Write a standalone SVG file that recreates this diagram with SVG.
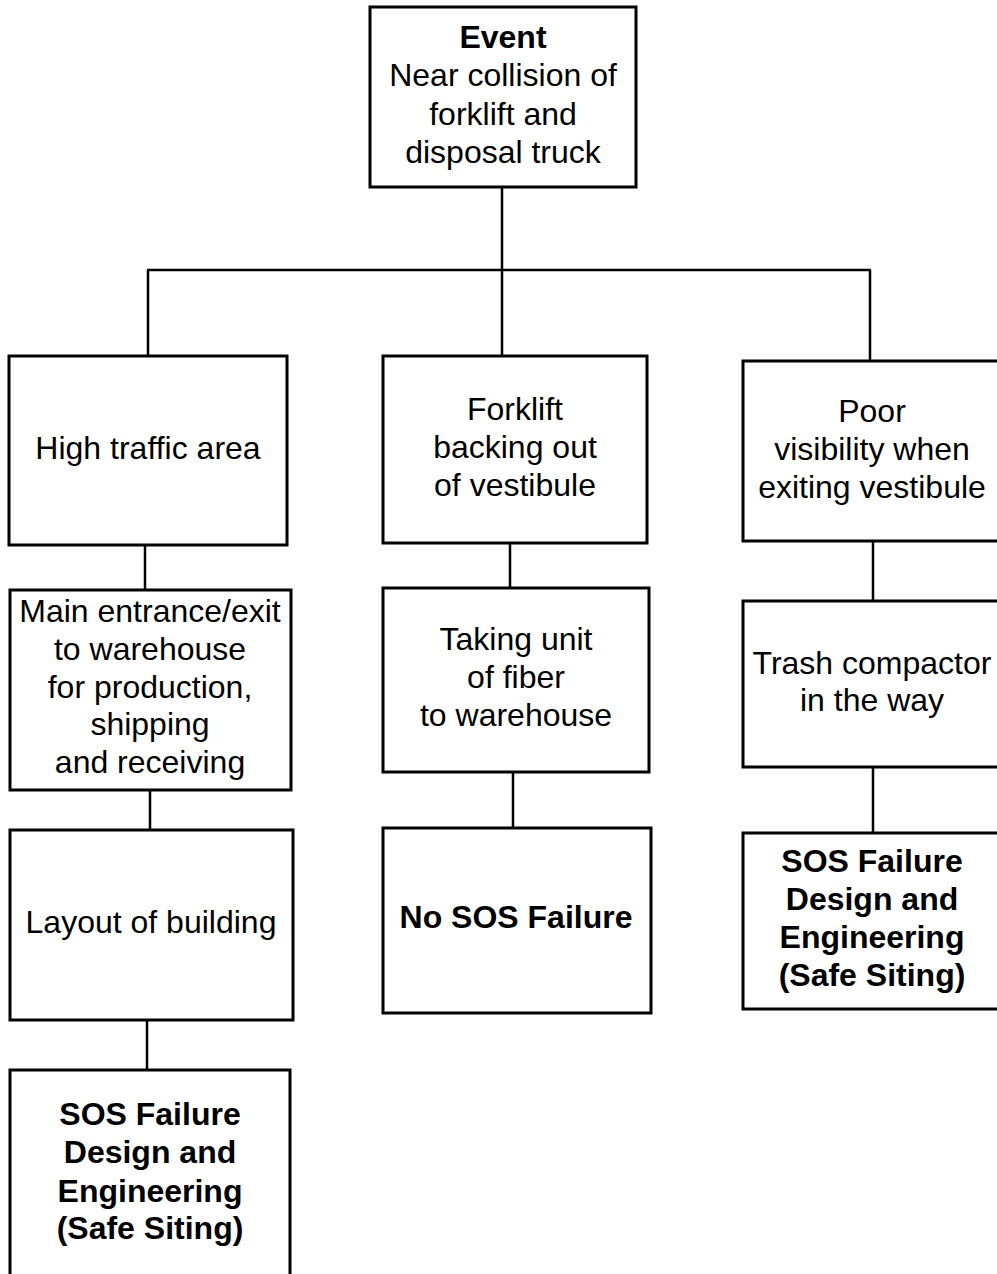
<svg xmlns="http://www.w3.org/2000/svg" width="997" height="1274" viewBox="0 0 997 1274">
<style>
.box{fill:#fff;stroke:#000;stroke-width:3}
.ln{stroke:#000;stroke-width:2.5;fill:none}
.t{font-family:"Liberation Sans",Arial,sans-serif;font-size:32px;fill:#000;text-anchor:middle}
.b{font-weight:bold}
</style>
<rect width="997" height="1274" fill="#fff"/>
<g id="connectors">
<line class="ln" x1="502" y1="187" x2="502" y2="270"/>
<line class="ln" x1="147" y1="270" x2="871" y2="270"/>
<line class="ln" x1="148" y1="270" x2="148" y2="356"/>
<line class="ln" x1="502" y1="270" x2="502" y2="356"/>
<line class="ln" x1="870" y1="270" x2="870" y2="361"/>
<line class="ln" x1="145" y1="545" x2="145" y2="590"/>
<line class="ln" x1="150" y1="790" x2="150" y2="830"/>
<line class="ln" x1="147" y1="1020" x2="147" y2="1070"/>
<line class="ln" x1="510" y1="543" x2="510" y2="588"/>
<line class="ln" x1="513" y1="772" x2="513" y2="828"/>
<line class="ln" x1="873" y1="541" x2="873" y2="601"/>
<line class="ln" x1="873" y1="767" x2="873" y2="833"/>
</g>
<g id="event">
<rect class="box" x="370" y="7" width="266" height="180"/>
<text class="t"><tspan class="b" x="503" y="48">Event</tspan><tspan x="503" y="86">Near collision of</tspan><tspan x="503" y="124.5">forklift and</tspan><tspan x="503" y="163">disposal truck</tspan></text>
</g>
<g id="high-traffic">
<rect class="box" x="9" y="356" width="278" height="189"/>
<text class="t"><tspan x="148" y="459">High traffic area</tspan></text>
</g>
<g id="forklift-backing">
<rect class="box" x="383" y="356" width="264" height="187"/>
<text class="t"><tspan x="515" y="420">Forklift</tspan><tspan x="515" y="458">backing out</tspan><tspan x="515" y="496">of vestibule</tspan></text>
</g>
<g id="poor-visibility">
<rect class="box" x="743" y="361" width="258" height="180"/>
<text class="t"><tspan x="872" y="422">Poor</tspan><tspan x="872" y="460">visibility when</tspan><tspan x="872" y="498">exiting vestibule</tspan></text>
</g>
<g id="main-entrance">
<rect class="box" x="10" y="590" width="281" height="200"/>
<text class="t"><tspan x="150" y="622">Main entrance/exit</tspan><tspan x="150" y="660">to warehouse</tspan><tspan x="150" y="698">for production,</tspan><tspan x="150" y="735">shipping</tspan><tspan x="150" y="773">and receiving</tspan></text>
</g>
<g id="taking-unit">
<rect class="box" x="383" y="588" width="266" height="184"/>
<text class="t"><tspan x="516" y="650">Taking unit</tspan><tspan x="516" y="688">of fiber</tspan><tspan x="516" y="726">to warehouse</tspan></text>
</g>
<g id="trash-compactor">
<rect class="box" x="743" y="601" width="258" height="166"/>
<text class="t"><tspan x="872" y="674">Trash compactor</tspan><tspan x="872" y="711">in the way</tspan></text>
</g>
<g id="layout-building">
<rect class="box" x="10" y="830" width="283" height="190"/>
<text class="t"><tspan x="151" y="933">Layout of building</tspan></text>
</g>
<g id="no-sos-failure">
<rect class="box" x="383" y="828" width="268" height="185"/>
<text class="t b"><tspan x="516" y="928">No SOS Failure</tspan></text>
</g>
<g id="sos-failure-right">
<rect class="box" x="743" y="833" width="258" height="176"/>
<text class="t b"><tspan x="872" y="872">SOS Failure</tspan><tspan x="872" y="910">Design and</tspan><tspan x="872" y="948">Engineering</tspan><tspan x="872" y="986">(Safe Siting)</tspan></text>
</g>
<g id="sos-failure-left">
<rect class="box" x="10" y="1070" width="280" height="230"/>
<text class="t b"><tspan x="150" y="1125">SOS Failure</tspan><tspan x="150" y="1163">Design and</tspan><tspan x="150" y="1202">Engineering</tspan><tspan x="150" y="1239">(Safe Siting)</tspan></text>
</g>
</svg>
